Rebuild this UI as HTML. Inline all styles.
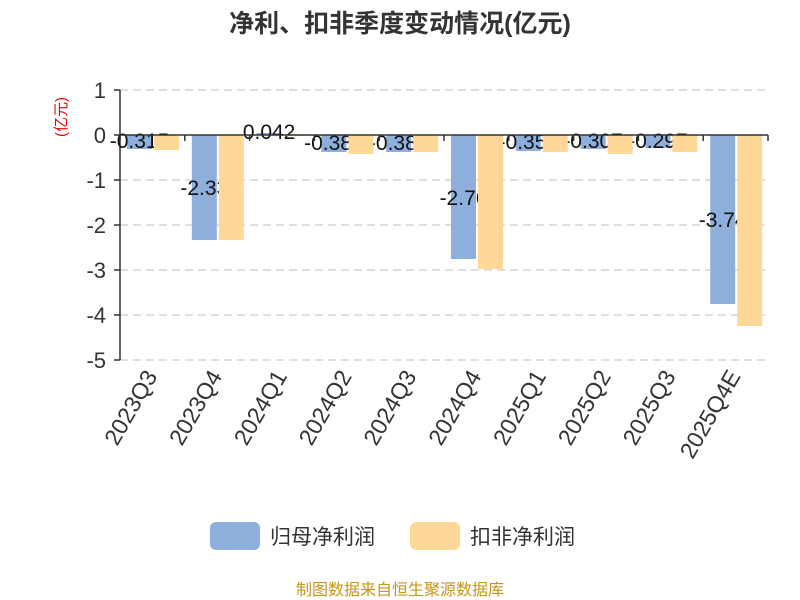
<!DOCTYPE html>
<html><head><meta charset="utf-8"><style>body{margin:0;background:#fff}svg{display:block}</style></head><body>
<svg width="800" height="600" xmlns="http://www.w3.org/2000/svg" font-family="'Liberation Sans','Noto Sans CJK SC',sans-serif">
<text x="400" y="32" text-anchor="middle" font-size="25" font-weight="bold" fill="#333">净利、扣非季度变动情况(亿元)</text>
<text transform="translate(66,117) rotate(-90)" text-anchor="middle" font-size="15" fill="#e00">(亿元)</text>
<g stroke="#ccc" stroke-dasharray="8,5" stroke-width="1.3">
<line x1="120" x2="768" y1="90" y2="90"/><line x1="120" x2="768" y1="180" y2="180"/><line x1="120" x2="768" y1="225" y2="225"/><line x1="120" x2="768" y1="270" y2="270"/><line x1="120" x2="768" y1="315" y2="315"/><line x1="120" x2="768" y1="360" y2="360"/>
</g>
<g font-size="22" fill="#333" text-anchor="end">
<text x="106" y="98">1</text><text x="106" y="143">0</text><text x="106" y="188">-1</text><text x="106" y="233">-2</text><text x="106" y="278">-3</text><text x="106" y="323">-4</text><text x="106" y="368">-5</text>
</g>
<g stroke="#333" stroke-width="1.5">
<line x1="120" x2="120" y1="90" y2="360"/>
<line x1="114" x2="120" y1="90" y2="90"/><line x1="114" x2="120" y1="135" y2="135"/><line x1="114" x2="120" y1="180" y2="180"/><line x1="114" x2="120" y1="225" y2="225"/><line x1="114" x2="120" y1="270" y2="270"/><line x1="114" x2="120" y1="315" y2="315"/><line x1="114" x2="120" y1="360" y2="360"/>
</g>
<g fill="#8eaedb">
<rect x="127" y="135" width="25" height="14"/><rect x="191.8" y="135" width="25" height="105"/><rect x="256.6" y="133" width="25" height="2"/><rect x="321.4" y="135" width="25" height="17"/><rect x="386.2" y="135" width="25" height="17"/><rect x="451" y="135" width="25" height="124"/><rect x="515.8" y="135" width="25" height="16"/><rect x="580.6" y="135" width="25" height="14"/><rect x="645.4" y="135" width="25" height="13"/><rect x="710.2" y="135" width="25" height="169"/>
</g>
<g font-size="21" fill="#111" text-anchor="middle">
<text x="139.5" y="148">-0.315</text><text x="204.3" y="195">-2.33</text><text x="269.1" y="139">0.042</text><text x="333.9" y="150">-0.380</text><text x="398.7" y="150">-0.380</text><text x="463.5" y="205">-2.76</text><text x="528.3" y="149">-0.352</text><text x="593.1" y="148">-0.307</text><text x="657.9" y="148">-0.297</text><text x="722.7" y="227">-3.74</text>
</g>
<g fill="#ffd898">
<rect x="154" y="135" width="25" height="15"/><rect x="218.8" y="135" width="25" height="105"/><rect x="283.6" y="135" width="25" height="1"/><rect x="348.4" y="135" width="25" height="19"/><rect x="413.2" y="135" width="25" height="17"/><rect x="478" y="135" width="25" height="134"/><rect x="542.8" y="135" width="25" height="17"/><rect x="607.6" y="135" width="25" height="19"/><rect x="672.4" y="135" width="25" height="17"/><rect x="737.2" y="135" width="25" height="191"/>
</g>
<g stroke="#333" stroke-width="1.5">
<line x1="120" x2="768" y1="135" y2="135"/>
<line x1="120" x2="120" y1="135" y2="141"/><line x1="184.8" x2="184.8" y1="135" y2="141"/><line x1="249.6" x2="249.6" y1="135" y2="141"/><line x1="314.4" x2="314.4" y1="135" y2="141"/><line x1="379.2" x2="379.2" y1="135" y2="141"/><line x1="444" x2="444" y1="135" y2="141"/><line x1="508.8" x2="508.8" y1="135" y2="141"/><line x1="573.6" x2="573.6" y1="135" y2="141"/><line x1="638.4" x2="638.4" y1="135" y2="141"/><line x1="703.2" x2="703.2" y1="135" y2="141"/><line x1="768" x2="768" y1="135" y2="141"/>
</g>
<g font-size="23" fill="#333" text-anchor="end">
<text transform="translate(158,376) rotate(-60)">2023Q3</text>
<text transform="translate(222.8,376) rotate(-60)">2023Q4</text>
<text transform="translate(287.6,376) rotate(-60)">2024Q1</text>
<text transform="translate(352.4,376) rotate(-60)">2024Q2</text>
<text transform="translate(417.2,376) rotate(-60)">2024Q3</text>
<text transform="translate(482,376) rotate(-60)">2024Q4</text>
<text transform="translate(546.8,376) rotate(-60)">2025Q1</text>
<text transform="translate(611.6,376) rotate(-60)">2025Q2</text>
<text transform="translate(676.4,376) rotate(-60)">2025Q3</text>
<text transform="translate(741.2,376) rotate(-60)">2025Q4E</text>
</g>
<rect x="210" y="522" width="50" height="28" rx="6" fill="#8eaedb"/>
<text x="270" y="544" font-size="21" fill="#333">归母净利润</text>
<rect x="410" y="522" width="50" height="28" rx="6" fill="#ffd898"/>
<text x="470" y="544" font-size="21" fill="#333">扣非净利润</text>
<text x="400" y="595" text-anchor="middle" font-size="16" fill="#c8941a">制图数据来自恒生聚源数据库</text>
</svg>
</body></html>
